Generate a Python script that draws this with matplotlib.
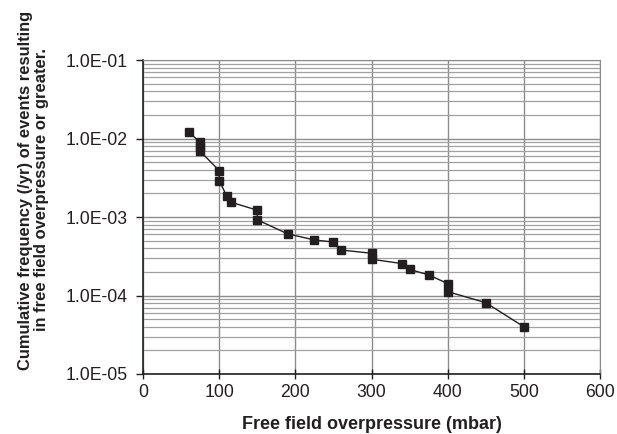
import matplotlib
matplotlib.use("Agg")
import matplotlib.pyplot as plt
from matplotlib.ticker import FuncFormatter, LogLocator, MultipleLocator

plt.rcParams["font.family"] = ["Liberation Sans", "DejaVu Sans"]

# overpressure (mbar) and cumulative frequency (/yr)
overpressure = [60, 75, 75, 75, 100, 100, 110, 115, 150, 150, 190, 225, 250, 260,
                300, 300, 340, 350, 375, 400, 400, 450, 500]
frequency = [1.2e-2, 9.0e-3, 7.8e-3, 6.9e-3, 3.9e-3, 2.9e-3, 1.85e-3, 1.55e-3,
             1.22e-3, 9.2e-4, 6.1e-4, 5.1e-4, 4.8e-4, 3.8e-4, 3.45e-4, 2.9e-4,
             2.55e-4, 2.15e-4, 1.83e-4, 1.42e-4, 1.12e-4, 8.1e-5, 4.0e-5]

fig = plt.figure(figsize=(6.17, 4.34), dpi=100)
ax = fig.add_axes([143 / 617, 1 - 374 / 434, 457 / 617, 314 / 434])

ax.plot(overpressure, frequency, color="#231f20", lw=1.0, marker="s",
        markersize=6, markerfacecolor="#231f20", markeredgecolor="#231f20", zorder=3)

ax.set_yscale("log")
ax.set_xlim(0, 600)
ax.set_ylim(1e-5, 1e-1)
ax.xaxis.set_major_locator(MultipleLocator(100))
ax.yaxis.set_major_locator(LogLocator(base=10, numticks=10))
ax.yaxis.set_minor_locator(LogLocator(base=10, subs=range(2, 10), numticks=20))
ax.yaxis.set_major_formatter(FuncFormatter(lambda v, p: f"{v:.1E}"))
ax.yaxis.set_minor_formatter(FuncFormatter(lambda v, p: ""))

ax.grid(True, which="major", axis="both", color="#8c8c8c", lw=1.0)
ax.grid(True, which="minor", axis="y", color="#a0a0a0", lw=0.9)
ax.set_axisbelow(True)

for side in ["top", "right"]:
    ax.spines[side].set_color("#8c8c8c")
for side in ["left", "bottom"]:
    ax.spines[side].set_color("#231f20")
    ax.spines[side].set_linewidth(1.2)

ax.tick_params(axis="x", which="major", direction="inout", length=7, width=1.0,
               labelsize=12.7, pad=4, colors="#231f20")
ax.tick_params(axis="y", which="major", direction="out", length=5, width=1.0,
               labelsize=12.7, pad=6, colors="#231f20")
ax.tick_params(axis="y", which="minor", length=0)

ax.set_xlabel("Free field overpressure (mbar)", fontsize=13, fontweight="bold",
              color="#231f20")
ax.xaxis.set_label_coords(0.5, -0.133)
ax.set_ylabel("Cumulative frequency (/yr) of events resulting\nin free field overpressure or greater.",
              fontsize=11.9, fontweight="bold", color="#231f20", linespacing=1.1)
ax.yaxis.set_label_coords(-0.206, 0.586)

fig.savefig("out.png", dpi=100)
